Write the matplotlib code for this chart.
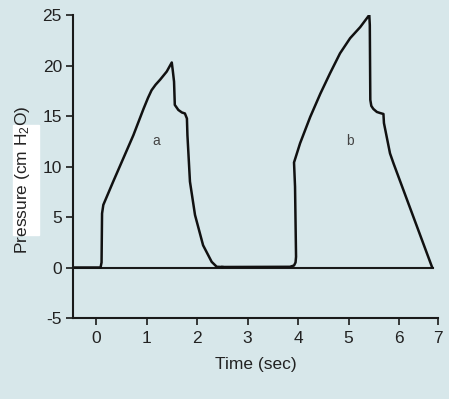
import numpy as np
import matplotlib
matplotlib.use("Agg")
import matplotlib.pyplot as plt
from matplotlib.patches import Rectangle

# ----------------------------------------------------------------------
# Daten
# ----------------------------------------------------------------------
t_a = [-0.45, 0.09, 0.11, 0.12, 0.145, 0.34, 0.54, 0.74, 0.94, 1.03, 1.10,
       1.18, 1.27, 1.40, 1.50, 1.52, 1.545, 1.56, 1.63, 1.70, 1.76, 1.80,
       1.81, 1.86, 1.96, 2.12, 2.29, 2.39, 2.50]
p_a = [0.0, 0.0, 0.5, 5.35, 6.2, 8.5, 10.8, 13.1, 15.7, 16.8, 17.55,
       18.1, 18.6, 19.4, 20.3, 19.5, 18.4, 16.1, 15.6, 15.35, 15.25, 14.75,
       13.1, 8.5, 5.2, 2.2, 0.56, 0.07, 0.05]

t_b = [2.50, 3.84, 3.92, 3.95, 3.96, 3.94, 3.92, 4.04, 4.24, 4.44, 4.63,
       4.83, 5.03, 5.23, 5.41, 5.42, 5.43, 5.45, 5.49, 5.56, 5.62, 5.69,
       5.70, 5.76, 5.82, 5.89, 6.65]
p_b = [0.05, 0.07, 0.2, 0.5, 1.06, 8.0, 10.4, 12.3, 14.9, 17.2, 19.2,
       21.2, 22.7, 23.8, 25.0, 24.0, 16.6, 16.0, 15.7, 15.4, 15.3, 15.2,
       14.3, 12.8, 11.3, 10.3, 0.07]

baseline_t = [-0.45, 6.68]
baseline_p = [0.0, 0.0]

labels     = ["a", "b"]
label_t    = [1.19, 5.03]
label_p    = [12.5, 12.5]

x_ticks       = [0, 1, 2, 3, 4, 5, 6, 6.77]
x_tick_labels = ["0", "1", "2", "3", "4", "5", "6", "7"]
y_ticks       = [-5, 0, 5, 10, 15, 20, 25]

# ----------------------------------------------------------------------
# Plot
# ----------------------------------------------------------------------
bg = "#d7e7ea"
plt.rcParams.update({"font.family": ["Liberation Sans", "DejaVu Sans"],
                     "font.size": 12,
                     "axes.unicode_minus": False})

fig = plt.figure(figsize=(4.49, 3.99), dpi=100, facecolor=bg)
ax = fig.add_axes([0.1626, 0.203, 0.8129, 0.7594], facecolor=bg)

# weisser Kasten hinter der Achsenbeschriftung
fig.patches.append(Rectangle((0.0283, 0.411), 0.0586, 0.2757,
                             transform=fig.transFigure, color="white",
                             zorder=-1))

ax.plot(baseline_t, baseline_p, color="#1a1a1a", lw=1.5)
ax.plot(t_a, p_a, color="#111111", lw=1.8, solid_joinstyle="round")
ax.plot(t_b, p_b, color="#111111", lw=1.8, solid_joinstyle="round")

for lab, tx, py in zip(labels, label_t, label_p):
    ax.text(tx, py, lab, ha="center", va="center", fontsize=10,
            color="#444444")

ax.set_xlim(-0.455, 6.77)
ax.set_ylim(-5, 25)
ax.set_xticks(x_ticks)
ax.set_xticklabels(x_tick_labels)
ax.set_yticks(y_ticks)

for s in ["top", "right"]:
    ax.spines[s].set_visible(False)
for s in ["left", "bottom"]:
    ax.spines[s].set_color("#1a1a1a")
    ax.spines[s].set_linewidth(1.5)

ax.tick_params(direction="out", length=5, width=1.2, color="#1a1a1a",
               labelcolor="#222222", labelsize=12.5)
ax.tick_params(axis="x", pad=4)
ax.tick_params(axis="y", pad=3)

ax.set_xlabel("Time (sec)", fontsize=12.5, color="#222222", labelpad=8)
ax.set_ylabel(r"Pressure (cm $\mathregular{H_2O}$)", fontsize=12.5,
              color="#222222")
ax.yaxis.set_label_coords(-0.112, 0.455)

fig.savefig("out.png", dpi=100, facecolor=bg)
